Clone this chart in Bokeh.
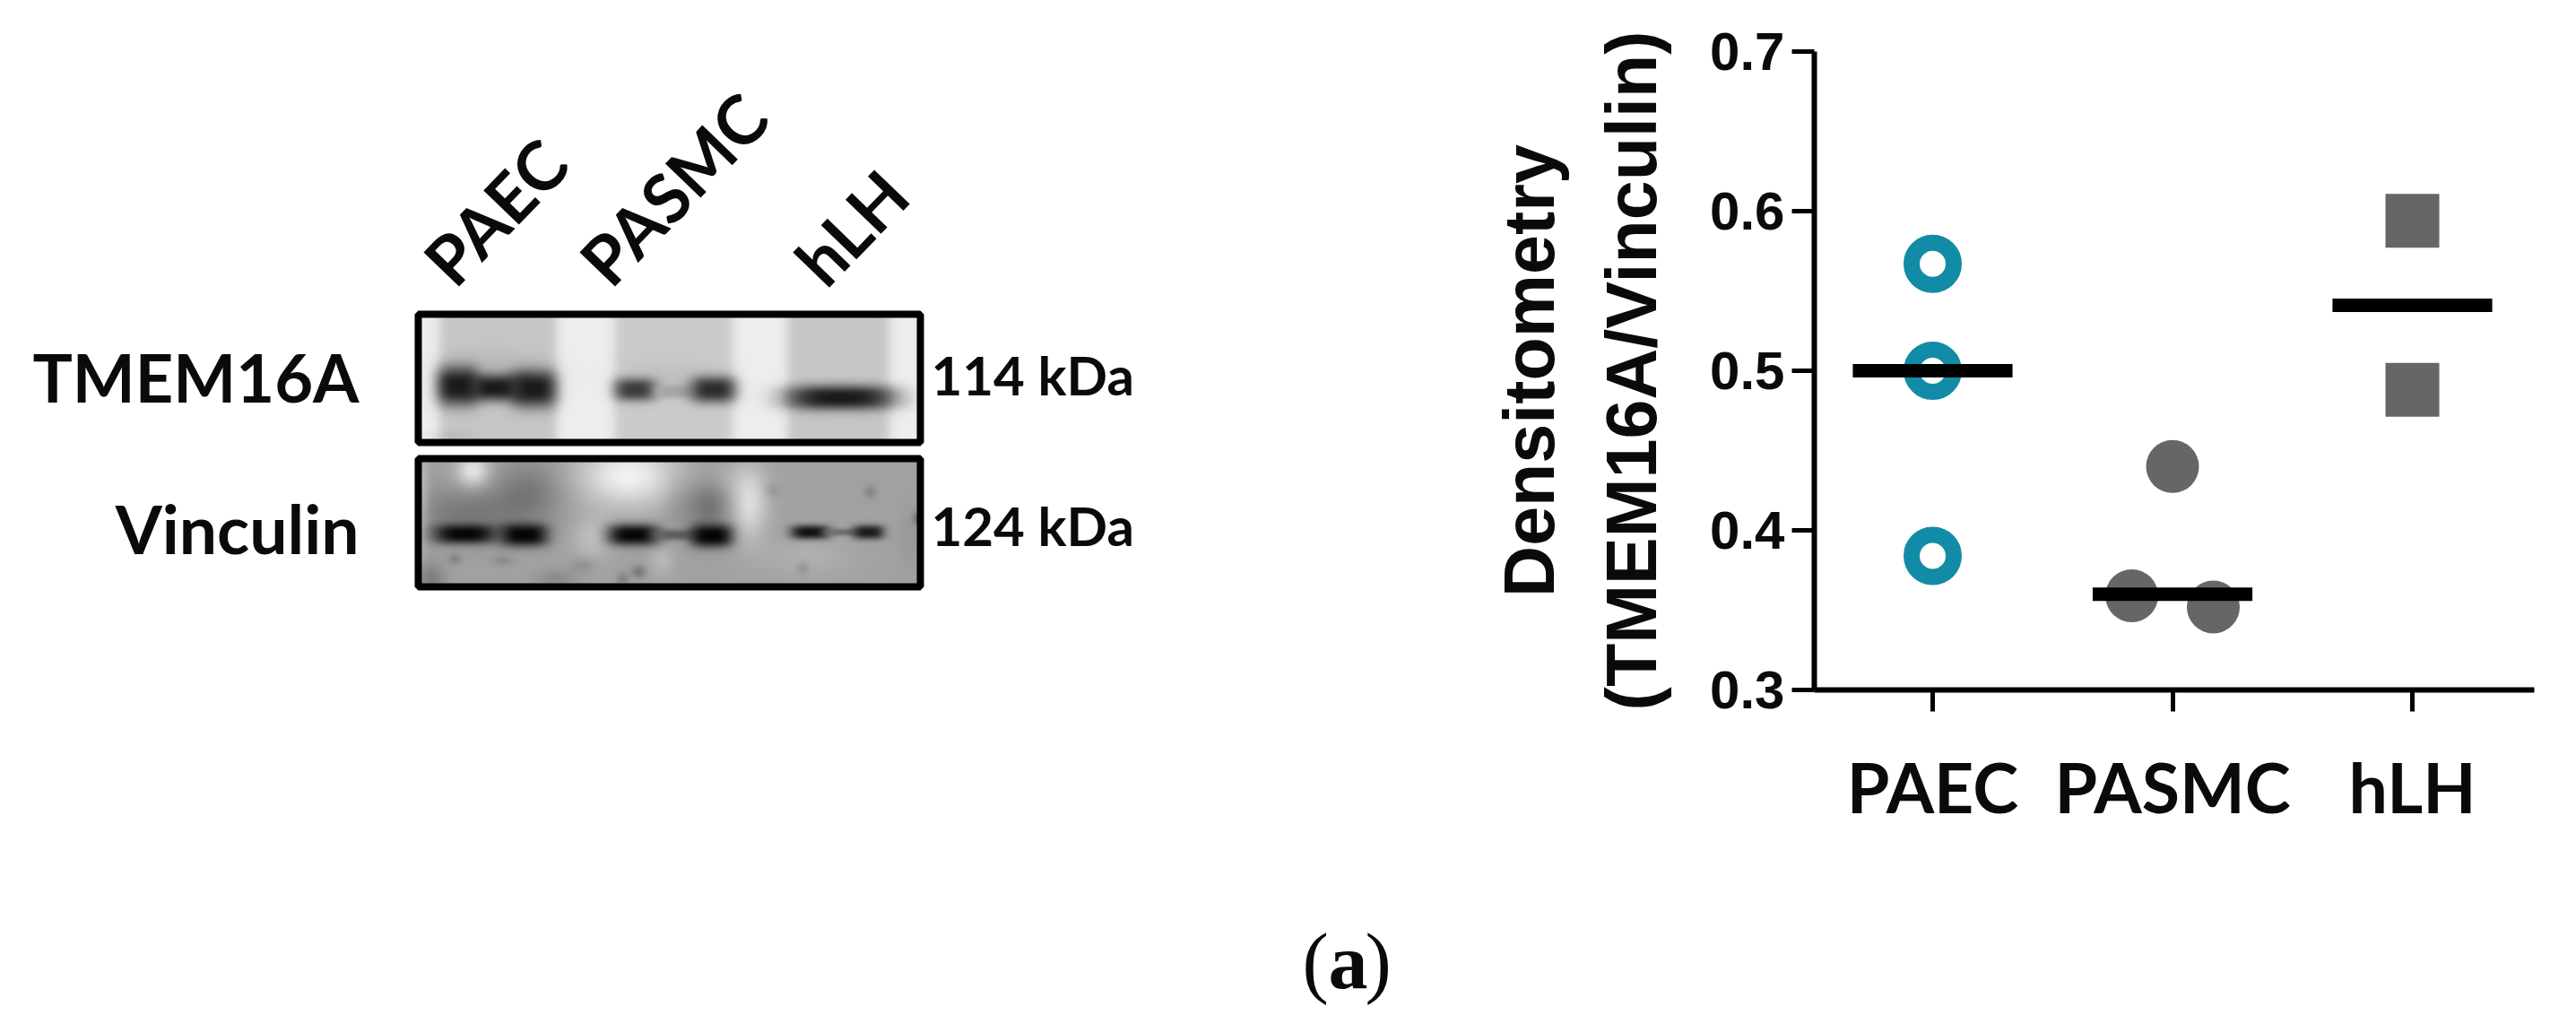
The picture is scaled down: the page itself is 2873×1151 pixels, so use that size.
import numpy as np
from bokeh.core.properties import value
from bokeh.embed import file_html
from bokeh.layouts import column, row
from bokeh.models import FixedTicker, LinearColorMapper, Range1d
from bokeh.plotting import figure
from bokeh.resources import INLINE

# ---------- chart data ----------
categories = ["PAEC", "PASMC", "hLH"]
cat_pos = [1, 2, 3]
paec_x = [1, 1, 1]
paec_y = [0.567, 0.500, 0.384]
pasmc_x = [2.0, 1.83, 2.17]
pasmc_y = [0.440, 0.359, 0.352]
hlh_x = [3, 3]
hlh_y = [0.594, 0.488]
means = [0.500, 0.360, 0.541]
y_ticks = [0.3, 0.4, 0.5, 0.6, 0.7]
mean_half = 0.333

# ---------- blot description (page pixels) ----------
top_lanes = [(490, 620, 198), (685, 817, 203), (878, 991, 198)]
top_patches = [(550, 415, 55, 22, -16), (745, 420, 55, 18, -10), (500, 485, 25, 6, -12)]
top_bands = [(510, 430, 24, 22, 26), (552, 432, 30, 15, 26), (595, 433, 26, 21, 26),
             (708, 434, 24, 13, 60), (752, 436, 22, 8, 165), (795, 434, 26, 15, 45),
             (937, 443, 62, 14, 26)]
bot_patches = [(527, 525, 18, 18, 70), (520, 572, 62, 30, -40), (590, 548, 38, 35, -38),
               (700, 530, 55, 35, 80), (660, 600, 22, 25, 28), (756, 560, 18, 30, -15),
               (790, 560, 24, 35, -50), (835, 560, 20, 40, 60), (800, 535, 26, 20, 20),
               (620, 645, 22, 10, -22), (480, 645, 16, 18, -35), (738, 625, 14, 16, 22),
               (900, 620, 50, 22, 14), (1015, 600, 14, 40, -8), (470, 560, 8, 50, 30),
               (507, 623, 7, 6, -28), (712, 637, 8, 7, -40), (694, 645, 7, 7, -30),
               (970, 548, 7, 7, -28), (895, 633, 7, 7, -22), (861, 547, 8, 7, -18),
               (1022, 578, 5, 7, -40), (560, 625, 12, 6, -20), (650, 630, 14, 8, -20)]
bot_bands = [(518, 595, 35, 11, 6), (584, 596, 27, 13, 4), (706, 596, 29, 12, 6),
             (752, 596, 24, 6, 95), (793, 597, 24, 13, 4), (903, 593, 22, 8, 18),
             (937, 593, 18, 4, 110), (968, 593, 18, 8, 28)]

def blot(x0, x1, y0, y1, base, lanes=(), patches=(), bands=()):
    xs = np.arange(x0, x1) + 0.5
    ys = np.arange(y0, y1) + 0.5
    X, Y = np.meshgrid(xs, ys)
    img = np.full(X.shape, float(base))
    for a, b, g in lanes:
        m = 0.5 * (np.tanh((X - a) / 7) - np.tanh((X - b) / 7))
        img = img * (1 - m) + g * m
    for cx, cy, sx, sy, d in patches:
        img += d * np.exp(-((X - cx) / sx) ** 2 - ((Y - cy) / sy) ** 2)
    for cx, cy, sx, sy, g in bands:
        m = np.exp(-(((X - cx) / sx) ** 2) ** 1.6 - (((Y - cy) / sy) ** 2) ** 1.3)
        img = img * (1 - m) + g * m
    return np.clip(img, 0, 255).astype(np.uint8)

W1, W2, H, H2 = 1650, 1223, 960, 191
left = figure(width=W1, height=H, output_backend="svg", toolbar_location=None,
              x_range=Range1d(0, W1), y_range=Range1d(769, 57),
              x_axis_location=None, y_axis_location=None,
              min_border_left=0, min_border_right=0,
              min_border_top=57, min_border_bottom=H - 769,
              outline_line_color=None)
left.grid.visible = False

pal = ["#%02x%02x%02x" % (i, i, i) for i in range(256)]
cm = LinearColorMapper(palette=pal, low=0, high=255)
top_img = blot(467, 1025, 350, 493, 238, top_lanes, top_patches, top_bands)
bot_img = blot(467, 1025, 511, 654, 162, (), bot_patches, bot_bands)
left.image(image=[top_img], x=467, y=350, dw=558, dh=143, color_mapper=cm)
left.image(image=[bot_img], x=467, y=511, dw=558, dh=143, color_mapper=cm)

left.quad(left=[466, 466], right=[1026, 1026], top=[350, 511], bottom=[493, 654],
          fill_color=None, line_color="black", line_width=8)

font = value("Lato")
def txt(fig, x, y, s, size, align="left", base="middle", angle=0, f=font, style="bold"):
    fig.text(x=[x], y=[y], text=[s], text_font=f, text_font_size=f"{size}px",
             text_font_style=style, text_align=align, text_baseline=base,
             angle=[angle], text_color="#0a0a0a")

txt(left, 400, 420, "TMEM16A", 74, "right")
txt(left, 400, 588, "Vinculin", 75, "right")
txt(left, 1038, 417, "114 kDa", 60)
txt(left, 1038, 585, "124 kDa", 60)
a = np.deg2rad(46)
txt(left, 486, 303, "PAEC", 76, base="alphabetic", angle=a)
txt(left, 660, 303, "PASMC", 76, base="alphabetic", angle=a)
txt(left, 900, 303, "hLH", 76, base="alphabetic", angle=a)

# ---------- caption strip ----------
cap = figure(width=W1 + W2, height=H2, output_backend="svg", toolbar_location=None,
             x_range=Range1d(0, W1 + W2), y_range=Range1d(H + H2, H),
             x_axis_location=None, y_axis_location=None, min_border=0,
             outline_line_color=None)
cap.grid.visible = False
serif = value("Liberation Serif")
txt(cap, 1452, 1072, "(", 88, base="alphabetic", f=serif, style="normal")
txt(cap, 1481, 1072, "a", 88, base="alphabetic", f=serif, style="bold")
txt(cap, 1522, 1072, ")", 88, base="alphabetic", f=serif, style="normal")

# ---------- scatter ----------
right = figure(width=W2, height=H, output_backend="svg", toolbar_location=None,
               x_range=Range1d(1 - 132 / 267.5, 3 + 136 / 267.5), y_range=Range1d(0.3, 0.7),
               min_border_left=2023 - W1, min_border_right=2873 - 2826,
               min_border_top=57, min_border_bottom=H - 769,
               outline_line_color=None)
right.grid.visible = False

teal = "#128ca6"
gray = "#666666"
right.ellipse(x=paec_x, y=paec_y, width=47, height=47, width_units="screen", height_units="screen",
              fill_color=None, line_color=teal, line_width=18)
right.ellipse(x=pasmc_x, y=pasmc_y, width=59, height=59, width_units="screen", height_units="screen",
              fill_color=gray, line_color=None)
right.rect(x=hlh_x, y=hlh_y, width=60, height=60, width_units="screen", height_units="screen",
           fill_color=gray, line_color=None)
right.segment(x0=[c - mean_half for c in cat_pos], x1=[c + mean_half for c in cat_pos],
              y0=means, y1=means, line_color="black", line_width=15)

xa, ya = right.xaxis[0], right.yaxis[0]
xa.ticker = FixedTicker(ticks=cat_pos)
xa.major_label_overrides = {c: n for c, n in zip(cat_pos, categories)}
xa.major_tick_in = 0
xa.major_tick_out = 24
xa.minor_tick_out = 0
xa.minor_tick_in = 0
xa.axis_line_width = 6
xa.major_tick_line_width = 5
xa.major_label_text_font = "Lato"
xa.major_label_text_font_style = "bold"
xa.major_label_text_font_size = "77px"
xa.major_label_text_color = "#0a0a0a"
xa.major_label_standoff = 37

ya.ticker = FixedTicker(ticks=y_ticks)
ya.major_label_overrides = {t: f"{t:.1f}" for t in y_ticks}
ya.major_tick_in = 0
ya.major_tick_out = 25
ya.minor_tick_out = 0
ya.minor_tick_in = 0
ya.axis_line_width = 6
ya.major_tick_line_width = 5
ya.major_label_text_font = "Liberation Sans"
ya.major_label_text_font_style = "bold"
ya.major_label_text_font_size = "60px"
ya.major_label_text_color = "#0a0a0a"
ya.major_label_standoff = 8
ya.axis_label = "Densitometry\n(TMEM16A/Vinculin)"
ya.axis_label_text_font = "Liberation Sans"
ya.axis_label_text_font_style = "bold"
ya.axis_label_text_font_size = "79px"
ya.axis_label_text_color = "#0a0a0a"
ya.axis_label_text_line_height = 1.28
ya.axis_label_standoff = 40

page = column(row(left, right, spacing=0), cap, spacing=0)
open("out.html", "w").write(file_html(page, INLINE))
